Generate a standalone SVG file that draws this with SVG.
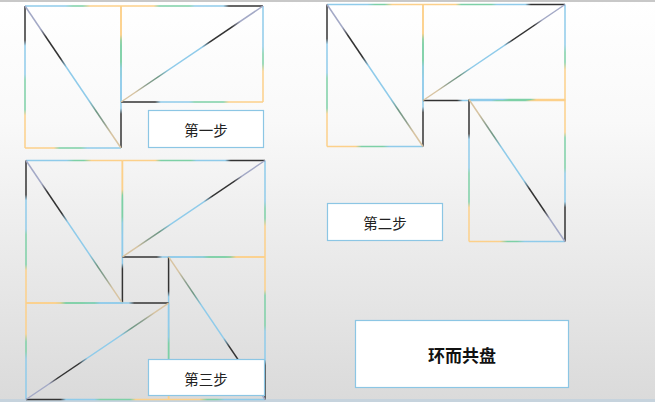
<svg xmlns="http://www.w3.org/2000/svg" xmlns:xlink="http://www.w3.org/1999/xlink" width="655" height="402" viewBox="0 0 655 402">
<style>
.e{stroke-width:1.5;fill:none;stroke-linecap:butt}
.box{fill:#ffffff;stroke:#8cc6e4;stroke-width:1.2}
.lbl{font-family:"Noto Sans CJK SC","Noto Sans",sans-serif;font-size:14.5px;fill:#222;text-anchor:middle;dominant-baseline:central}
.big{font-family:"Noto Sans CJK SC","Noto Sans",sans-serif;font-size:17px;font-weight:bold;fill:#111;text-anchor:middle;dominant-baseline:central}
</style>
<defs>
<linearGradient id="bg" x1="0" y1="0" x2="0" y2="1">
<stop offset="0" stop-color="#ffffff"/>
<stop offset="0.3" stop-color="#f9f9f9"/>
<stop offset="1" stop-color="#dadada"/>
</linearGradient>
<linearGradient id="gTop" gradientUnits="userSpaceOnUse" x1="0" y1="0" x2="96" y2="0">
<stop offset="0" stop-color="#8fcbea"/><stop offset="0.42" stop-color="#8fcbea"/>
<stop offset="0.5" stop-color="#7dd0a6"/><stop offset="0.6" stop-color="#7dd0a6"/>
<stop offset="0.68" stop-color="#fcd08a"/><stop offset="1" stop-color="#fcd08a"/>
</linearGradient>
<linearGradient id="gLeft" gradientUnits="userSpaceOnUse" x1="0" y1="0" x2="0" y2="142">
<stop offset="0" stop-color="#333333"/><stop offset="0.24" stop-color="#333333"/>
<stop offset="0.28" stop-color="#8fcbea"/><stop offset="0.48" stop-color="#8fcbea"/>
<stop offset="0.52" stop-color="#7dd0a6"/><stop offset="0.73" stop-color="#7dd0a6"/>
<stop offset="0.77" stop-color="#fcd08a"/><stop offset="1" stop-color="#fcd08a"/>
</linearGradient>
<linearGradient id="gBottom" gradientUnits="userSpaceOnUse" x1="0" y1="142" x2="96" y2="142">
<stop offset="0" stop-color="#fcd08a"/><stop offset="0.3" stop-color="#fcd08a"/>
<stop offset="0.36" stop-color="#7dd0a6"/><stop offset="0.58" stop-color="#7dd0a6"/>
<stop offset="0.65" stop-color="#8fcbea"/><stop offset="1" stop-color="#8fcbea"/>
</linearGradient>
<linearGradient id="gRight" gradientUnits="userSpaceOnUse" x1="96" y1="0" x2="96" y2="142">
<stop offset="0" stop-color="#fcd08a"/><stop offset="0.24" stop-color="#fcd08a"/>
<stop offset="0.28" stop-color="#7dd0a6"/><stop offset="0.48" stop-color="#7dd0a6"/>
<stop offset="0.52" stop-color="#8fcbea"/><stop offset="0.72" stop-color="#8fcbea"/>
<stop offset="0.76" stop-color="#333333"/><stop offset="1" stop-color="#333333"/>
</linearGradient>
<linearGradient id="gDiag" gradientUnits="userSpaceOnUse" x1="0" y1="0" x2="96" y2="142">
<stop offset="0" stop-color="#a3a9c6"/><stop offset="0.16" stop-color="#a3a9c6"/>
<stop offset="0.22" stop-color="#333333"/><stop offset="0.37" stop-color="#333333"/>
<stop offset="0.43" stop-color="#8fcbea"/><stop offset="0.66" stop-color="#8fcbea"/>
<stop offset="0.74" stop-color="#6f9884"/><stop offset="0.82" stop-color="#8a9e8e"/>
<stop offset="0.9" stop-color="#d8c4a2"/><stop offset="1" stop-color="#d8c4a2"/>
</linearGradient>
<g id="piece">
<line class="e" x1="0" y1="0" x2="96" y2="0" stroke="url(#gTop)"/>
<line class="e" x1="0" y1="0" x2="0" y2="142" stroke="url(#gLeft)"/>
<line class="e" x1="0" y1="142" x2="96" y2="142" stroke="url(#gBottom)"/>
<line class="e" x1="96" y1="0" x2="96" y2="142" stroke="url(#gRight)"/>
<line class="e" x1="0" y1="0" x2="96" y2="142" stroke="url(#gDiag)"/>
</g>
</defs>
<rect x="0" y="0" width="655" height="402" fill="url(#bg)"/>
<rect x="0" y="0" width="655" height="2" fill="#c8c8c8"/>
<rect x="0" y="399" width="655" height="3" fill="#c6d3dd"/>

<g id="step1">
<use xlink:href="#piece" transform="translate(25,6)"/>
<use xlink:href="#piece" transform="translate(25,6) rotate(90 119 119)"/>
</g>

<g id="step2">
<use xlink:href="#piece" transform="translate(327,4.5)"/>
<use xlink:href="#piece" transform="translate(327,4.5) rotate(90 119 119)"/>
<use xlink:href="#piece" transform="translate(327,3.5) rotate(180 119 119)"/>
</g>

<g id="step3">
<use xlink:href="#piece" transform="translate(26,160.5) scale(1.0042) rotate(0 119 119)"/>
<use xlink:href="#piece" transform="translate(26,160.5) scale(1.0042) rotate(90 119 119)"/>
<use xlink:href="#piece" transform="translate(26,160.5) scale(1.0042) rotate(180 119 119)"/>
<use xlink:href="#piece" transform="translate(26,160.5) scale(1.0042) rotate(270 119 119)"/>
</g>

<g id="label1">
<rect class="box" x="148.5" y="110.5" width="115" height="37"/>
<text class="lbl" x="206" y="129">第一步</text>
</g>
<g id="label2">
<rect class="box" x="327.5" y="203.5" width="115" height="37"/>
<text class="lbl" x="385" y="222">第二步</text>
</g>
<g id="label3">
<rect class="box" x="148.5" y="359.5" width="116" height="36"/>
<text class="lbl" x="206" y="378">第三步</text>
</g>
<g id="title">
<rect class="box" x="355.5" y="320.5" width="213" height="67"/>
<text class="big" x="462" y="354.5">环而共盘</text>
</g>
</svg>
